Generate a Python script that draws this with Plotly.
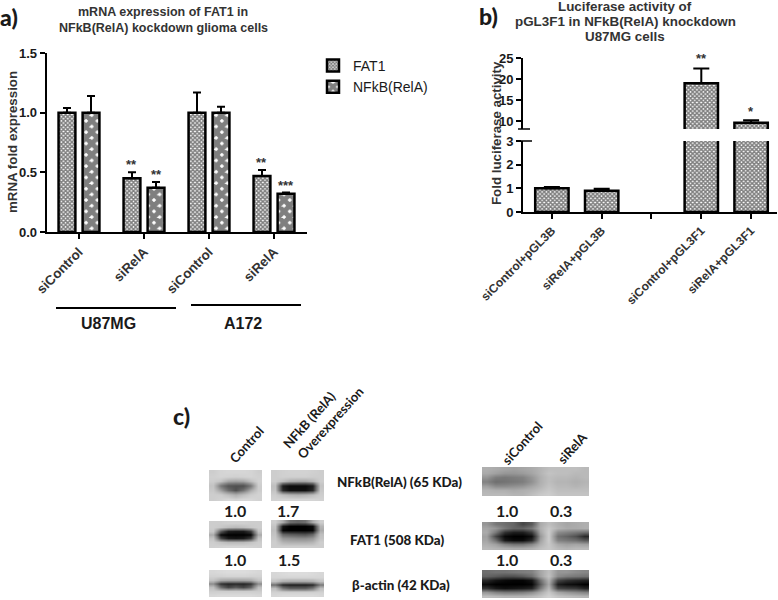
import plotly.graph_objects as go

W, H = 778, 600

# panel a
a_ticks = ["siControl", "siRelA", "siControl", "siRelA"]
a_pos = [0, 1, 2, 3]
fat1 = [1.0, 0.45, 1.0, 0.47]
fat1_err = [0.04, 0.05, 0.17, 0.05]
relA = [1.0, 0.37, 1.0, 0.32]
relA_err = [0.14, 0.05, 0.05, 0.01]
a_stars_fat1 = ["", "**", "", "**"]
a_stars_relA = ["", "**", "", "***"]

# panel b
b_ticks = ["siControl+pGL3B", "siRelA+pGL3B", "", "siControl+pGL3F1", "siRelA+pGL3F1"]
b_pos = [0, 1, 2, 3, 4]
luc = [1.0, 0.9, None, 19.0, 9.6]
luc_err = [0.06, 0.08, 0, 3.5, 0.6]
b_stars = ["", "", "", "**", "*"]

# panel c, grey levels of the blots
ctrl_nfkb = [[205, 212, 214, 214, 214, 212, 205],
             [208, 212, 210, 208, 210, 212, 208],
             [205, 195, 165, 160, 165, 190, 210],
             [195, 120, 85, 80, 80, 120, 205],
             [200, 160, 110, 80, 115, 170, 205],
             [205, 205, 190, 175, 190, 205, 210],
             [205, 210, 215, 210, 215, 215, 210]]
over_nfkb = [[205, 208, 210, 210, 210, 208, 205],
             [205, 208, 208, 208, 208, 205, 205],
             [205, 190, 170, 165, 165, 180, 205],
             [190, 30, 10, 10, 10, 30, 195],
             [195, 40, 15, 15, 15, 40, 200],
             [205, 190, 180, 175, 180, 190, 205],
             [210, 212, 212, 212, 212, 212, 210]]
ctrl_fat1 = [[205, 205, 208, 208, 208, 205, 205],
             [205, 200, 190, 185, 190, 200, 205],
             [200, 90, 30, 25, 25, 60, 195],
             [170, 10, 0, 0, 0, 5, 170],
             [195, 70, 25, 20, 25, 60, 195],
             [205, 195, 185, 185, 185, 195, 205],
             [208, 210, 212, 212, 212, 210, 208]]
over_fat1 = [[205, 170, 110, 100, 110, 170, 205],
             [195, 20, 0, 0, 0, 10, 180],
             [190, 5, 0, 0, 0, 5, 170],
             [195, 100, 90, 85, 80, 100, 190],
             [200, 150, 145, 140, 140, 150, 195],
             [205, 180, 175, 175, 175, 180, 205],
             [205, 205, 205, 205, 205, 205, 205]]
ctrl_actin = [[215, 218, 220, 220, 220, 218, 215],
              [210, 210, 212, 212, 212, 210, 210],
              [195, 170, 165, 165, 165, 170, 195],
              [140, 50, 35, 40, 35, 50, 140],
              [190, 110, 70, 90, 70, 100, 190],
              [205, 205, 205, 205, 205, 205, 205],
              [215, 218, 218, 218, 218, 218, 215]]
over_actin = [[215, 218, 220, 220, 220, 218, 215],
              [212, 212, 212, 212, 212, 212, 212],
              [195, 175, 170, 170, 170, 175, 195],
              [110, 40, 30, 30, 30, 40, 120],
              [190, 120, 95, 95, 95, 120, 190],
              [208, 205, 205, 205, 205, 205, 208],
              [215, 218, 218, 218, 218, 218, 215]]
si_nfkb = [[175, 170, 165, 160, 165, 170, 180, 190, 190, 190, 190, 185],
           [170, 160, 150, 150, 155, 165, 180, 195, 190, 190, 185, 185],
           [150, 125, 120, 125, 130, 150, 175, 190, 185, 185, 180, 185],
           [130, 110, 115, 120, 125, 145, 175, 190, 180, 180, 175, 180],
           [160, 140, 140, 145, 150, 165, 180, 195, 185, 185, 180, 185],
           [180, 175, 175, 170, 175, 180, 190, 200, 190, 190, 190, 190],
           [185, 185, 185, 180, 180, 190, 200, 205, 195, 195, 195, 195]]
si_fat1 = [[150, 120, 110, 100, 70, 90, 170, 190, 175, 165, 170, 175],
           [165, 150, 120, 100, 100, 120, 175, 200, 180, 170, 170, 175],
           [170, 120, 50, 30, 30, 60, 165, 205, 140, 130, 120, 110],
           [160, 70, 10, 0, 0, 15, 150, 205, 115, 100, 80, 40],
           [165, 110, 25, 10, 10, 40, 160, 205, 130, 120, 110, 90],
           [175, 160, 130, 115, 115, 135, 175, 200, 170, 160, 165, 160],
           [185, 180, 175, 170, 170, 175, 190, 200, 185, 180, 185, 185]]
si_actin = [[110, 115, 115, 120, 125, 130, 165, 190, 150, 150, 140, 135],
            [100, 90, 80, 80, 90, 110, 160, 195, 140, 125, 120, 115],
            [40, 20, 10, 5, 5, 20, 110, 180, 70, 50, 40, 35],
            [10, 0, 0, 0, 0, 5, 90, 170, 30, 15, 10, 0],
            [50, 25, 15, 20, 25, 35, 120, 185, 70, 60, 55, 35],
            [150, 130, 120, 120, 125, 140, 170, 200, 165, 150, 140, 130],
            [190, 185, 180, 180, 180, 185, 195, 210, 195, 190, 185, 180]]

ARIAL = "Liberation Sans"
CALIBRI = "Lato"
INK = "#1a1a1a"
SOFT = "#333333"
fine = dict(shape="x", size=3, solidity=0.75, fgcolor="black", bgcolor="white")
coarse = dict(shape="x", size=8, solidity=0.85, fgcolor="black", bgcolor="white")


def xdom(x0, x1):
    return [x0 / W, x1 / W]


def ydom(top, bottom):
    return [1 - bottom / H, 1 - top / H]


fig = go.Figure()
annos = []
shapes = []


def label(x, y, text, size, font=ARIAL, angle=0, weight=700, color=INK):
    annos.append(dict(xref="paper", yref="paper", x=x / W, y=1 - y / H, text=text,
                      showarrow=False, xanchor="center", yanchor="middle", textangle=angle,
                      font=dict(family=font, size=size, color=color, weight=weight)))


def rule(x0, y0, x1, y1, width):
    shapes.append(dict(type="line", xref="paper", yref="paper", x0=x0 / W, x1=x1 / W,
                       y0=1 - y0 / H, y1=1 - y1 / H, line=dict(color="black", width=width)))


def stars(xref, yref, xs, ys, texts, size=13):
    for x, y, t in zip(xs, ys, texts):
        if t:
            annos.append(dict(xref=xref, yref=yref, x=x, y=y, text=t, showarrow=False,
                              yanchor="bottom", yshift=-2,
                              font=dict(family=ARIAL, size=size, color="#333333", weight=700)))


# panel a bars
for name, vals, errs, patt in [("FAT1", fat1, fat1_err, fine), ("NFkB(RelA)", relA, relA_err, coarse)]:
    fig.add_trace(go.Bar(name=name, x=a_pos, y=vals, xaxis="x", yaxis="y",
                         error_y=dict(type="data", symmetric=False, array=errs, arrayminus=[0] * 4,
                                      color="black", thickness=2, width=4),
                         marker=dict(color="white", pattern=patt, line=dict(color="black", width=2.5))))
stars("x", "y", [p - 0.185 for p in a_pos], [v + e for v, e in zip(fat1, fat1_err)], a_stars_fat1)
stars("x", "y", [p + 0.185 for p in a_pos], [v + e for v, e in zip(relA, relA_err)], a_stars_relA)

# panel b, the same bars on both sides of the axis break
for xa, ya in [("x2", "y2"), ("x2", "y3")]:
    fig.add_trace(go.Bar(x=b_pos, y=luc, xaxis=xa, yaxis=ya, width=0.67, showlegend=False,
                         error_y=dict(type="data", symmetric=False, array=luc_err,
                                      arrayminus=[0] * 5, color="black", thickness=2, width=8),
                         marker=dict(color="white", pattern=fine, line=dict(color="black", width=2.5))))
stars("x2", "y3", b_pos, [None, None, None, 23.2, 10.5], b_stars)

# panel c blots
blots = [(ctrl_nfkb, 209, 262, 470, 501), (over_nfkb, 271, 324, 470, 501),
         (ctrl_fat1, 209, 262, 521, 548), (over_fat1, 271, 324, 520, 548),
         (ctrl_actin, 209, 262, 570, 597), (over_actin, 271, 324, 572, 597),
         (si_nfkb, 482, 589, 467, 496), (si_fat1, 482, 589, 522, 550), (si_actin, 482, 589, 570, 598)]
blot_axes = {}
for i, (z, x0, x1, top, bottom) in enumerate(blots):
    n = i + 4
    fig.add_trace(go.Heatmap(z=z, xaxis=f"x{n}", yaxis=f"y{n}", zmin=0, zmax=255, zsmooth="best",
                             showscale=False, hoverinfo="skip",
                             colorscale=[[0, "black"], [1, "white"]]))
    blot_axes[f"xaxis{n}"] = dict(domain=xdom(x0, x1), visible=False, anchor=f"y{n}")
    blot_axes[f"yaxis{n}"] = dict(domain=ydom(top, bottom), visible=False, anchor=f"x{n}", autorange="reversed")

# text
label(9, 17, "a)", 23, CALIBRI, weight=900)
label(488, 16, "b)", 23, CALIBRI, weight=900)
label(181, 416, "c)", 23, CALIBRI, weight=900)
label(163, 12, "mRNA expression of FAT1 in", 12.5, color=SOFT)
label(163, 28, "NFkB(RelA) kockdown glioma cells", 12.5, color=SOFT)
label(625, 6, "Luciferase activity of", 13.4, color=SOFT)
label(625, 21, "pGL3F1 in NFkB(RelA) knockdown", 13.4, color=SOFT)
label(625, 36, "U87MG cells", 13.4, color=SOFT)
label(12, 142, "mRNA fold expression", 13.3, ARIAL, -90, color=SOFT)
label(496, 133, "Fold luciferase activity", 13.3, ARIAL, -90, color=SOFT)
label(108, 323, "U87MG", 16)
label(243, 323, "A172", 16)
rule(56, 308, 176, 308, 2)
rule(191, 305, 301, 305, 2)
rule(518, 129, 530, 129, 1.5)
rule(518, 141, 532, 141, 1.5)

label(246, 445, "Control", 13, CALIBRI, -48, 700)
label(309, 420, "NFkB (RelA)", 13, CALIBRI, -48, 700)
label(330, 423, "Overexpression", 13, CALIBRI, -48, 700)
label(522, 443, "siControl", 13, CALIBRI, -48, 700)
label(572, 448, "siRelA", 13, CALIBRI, -48, 700)
label(399, 482, "NFkB(RelA) (65 KDa)", 13.4, CALIBRI, weight=900)
label(397, 540, "FAT1 (508 KDa)", 13.4, CALIBRI, weight=900)
label(401, 585, "β-actin (42 KDa)", 13.4, CALIBRI, weight=900)
for x, y, t in [(235, 510, "1.0"), (288, 510, "1.7"), (235, 559, "1.0"), (289, 559, "1.5"),
                (507, 510, "1.0"), (561, 510, "0.3"), (507, 559, "1.0"), (561, 559, "0.3")]:
    label(x, y, t, 16, CALIBRI)

axis_common = dict(showgrid=False, zeroline=False, showline=True, linecolor="black", linewidth=1.8,
                   ticks="outside", tickcolor="black", tickwidth=1.8, ticklen=5, automargin=False)
num_font = dict(family=ARIAL, size=13, color=INK, weight=700)

fig.update_layout(
    width=W, height=H, margin=dict(l=0, r=0, t=0, b=0, autoexpand=False),
    paper_bgcolor="white", plot_bgcolor="white",
    barmode="group", bargap=0.26, bargroupgap=0.3,
    annotations=annos, shapes=shapes,
    legend=dict(x=313 / W, y=1 - 50 / H, xanchor="left", yanchor="top", bgcolor="rgba(0,0,0,0)",
                font=dict(family=ARIAL, size=14, color=INK, weight=400), tracegroupgap=3),
    xaxis=dict(domain=xdom(46.5, 306.5), range=[-0.5, 3.5], tickvals=a_pos, ticktext=a_ticks,
               tickangle=-45, anchor="y", tickfont=dict(family=ARIAL, size=13.4, color=SOFT, weight=700),
               **axis_common),
    yaxis=dict(domain=ydom(53, 232), range=[0, 1.5], tickvals=[0, 0.5, 1.0, 1.5], tickformat=".1f",
               anchor="x", tickfont=num_font, **axis_common),
    xaxis2=dict(domain=xdom(523, 777), range=[-0.58, 4.52], tickvals=b_pos, ticktext=b_ticks,
                tickangle=-45, anchor="y2", tickfont=dict(family=ARIAL, size=12, color=SOFT, weight=700),
                **axis_common),
    yaxis2=dict(domain=ydom(141, 212), range=[0, 3], tickvals=[0, 1, 2, 3], anchor="x2",
                tickfont=num_font, **axis_common),
    yaxis3=dict(domain=ydom(58, 129), range=[8.1, 25], tickvals=[10, 15, 20, 25], anchor="x2",
                tickfont=num_font, **axis_common),
    **blot_axes,
)

# the page's default body margin would push the fixed-size figure off the window
fig.write_html("out.html", config={"displayModeBar": False},
               post_script="document.body.style.margin = '0';")
